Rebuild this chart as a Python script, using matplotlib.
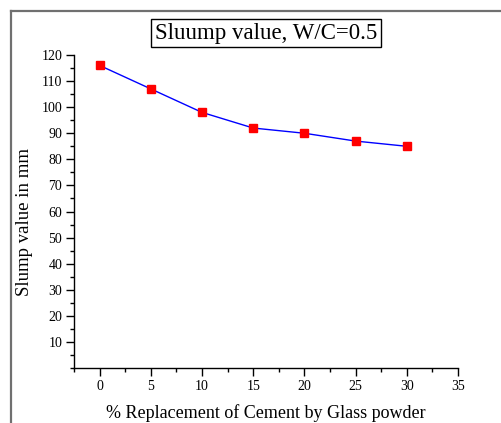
import matplotlib
matplotlib.use("Agg")
import matplotlib.pyplot as plt
from matplotlib.lines import Line2D
from matplotlib.ticker import MultipleLocator

replacement = [0, 5, 10, 15, 20, 25, 30]
slump = [116, 107, 98, 92, 90, 87, 85]

title = "Sluump value, W/C=0.5"
xlabel = "% Replacement of Cement by Glass powder"
ylabel = "Slump value in mm"

plt.rcParams['font.family'] = ['Liberation Serif', 'DejaVu Serif']

fig = plt.figure(figsize=(5.02, 4.23), dpi=100)
ax = fig.add_axes([74/502, 1-368/423, (458-74)/502, (368-55)/423])

ax.plot(replacement, slump, color='#0000ff', lw=1.0, zorder=2)
ax.plot(replacement, slump, ls='none', marker='s', ms=6.2, color='#ff0000',
        mec='#ff0000', zorder=3)

ax.set_xlim(-2.5, 35)
ax.set_ylim(0, 120)
ax.xaxis.set_major_locator(MultipleLocator(5))
ax.xaxis.set_minor_locator(MultipleLocator(2.5))
ax.yaxis.set_major_locator(MultipleLocator(10))
ax.yaxis.set_minor_locator(MultipleLocator(5))
ax.set_yticks(range(10, 121, 10))

for s in ['top', 'right']:
    ax.spines[s].set_visible(False)
for s in ['left', 'bottom']:
    ax.spines[s].set_linewidth(1.0)

ax.tick_params(which='major', direction='out', length=5.5, width=1, labelsize=10, pad=3)
ax.tick_params(which='minor', direction='out', length=3, width=1)

ax.set_xlabel(xlabel, fontsize=13, labelpad=8)
fig.text(25/502, 1-222/423, ylabel, rotation=90, ha='center', va='center', fontsize=13.5)

fig.text(266/502, 1-33/423, title, ha='center', va='center', fontsize=16.5,
         bbox=dict(facecolor='white', edgecolor='black', lw=1, boxstyle='square,pad=0.15'))

fig.add_artist(Line2D([11/502, 1], [1-11/423, 1-11/423], color='#707070', lw=1.6,
                      transform=fig.transFigure))
fig.add_artist(Line2D([11/502, 11/502], [1-11/423, 0], color='#707070', lw=1.6,
                      transform=fig.transFigure))

fig.savefig("out.png", dpi=100)
